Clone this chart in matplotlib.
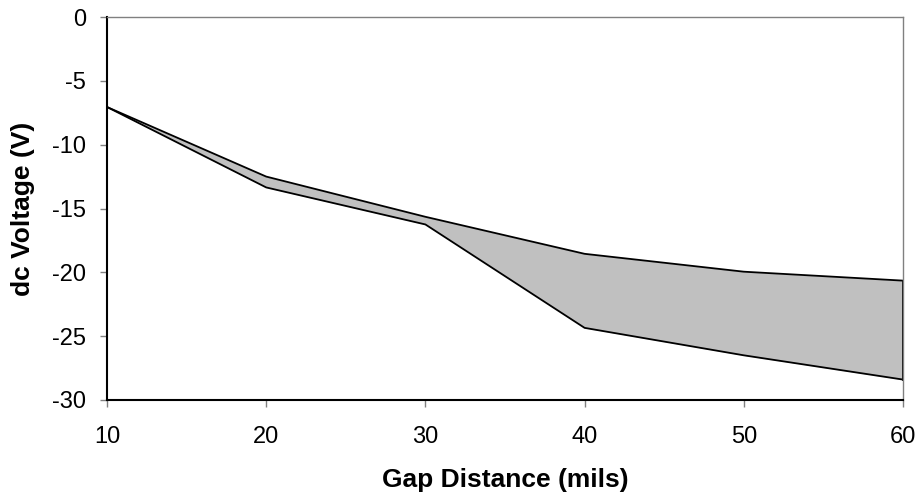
import matplotlib
matplotlib.use("Agg")
import matplotlib.pyplot as plt

# gap distance (mils) and the upper / lower bounds of dc voltage (V)
gap = [10, 20, 30, 40, 50, 60]
upper = [-7.05, -12.5, -15.65, -18.55, -19.95, -20.65]
lower = [-7.05, -13.35, -16.25, -24.35, -26.5, -28.4]

x_ticks = [10, 20, 30, 40, 50, 60]
y_ticks = [0, -5, -10, -15, -20, -25, -30]

plt.rcParams['font.family'] = ['Liberation Sans', 'DejaVu Sans']

fig = plt.figure(figsize=(9.19, 4.97), dpi=100)
ax = fig.add_axes([107 / 919, 1 - 400 / 497, (903 - 107) / 919, (400 - 17) / 497])

ax.fill_between(gap, lower, upper, color="#c0c0c0", linewidth=0)
ax.plot(gap, upper, color="black", linewidth=1.3)
ax.plot(gap, lower, color="black", linewidth=1.3)
ax.plot([gap[-1], gap[-1]], [lower[-1], upper[-1]], color="black", linewidth=1.3)

ax.set_xlim(10, 60)
ax.set_ylim(-30, 0)
ax.set_xticks(x_ticks)
ax.set_yticks(y_ticks)
ax.set_yticklabels([str(v) for v in y_ticks])

for side in ["left", "bottom"]:
    ax.spines[side].set_color("black")
    ax.spines[side].set_linewidth(1.5)
for side in ["top", "right"]:
    ax.spines[side].set_color("#808080")
    ax.spines[side].set_linewidth(1.0)

ax.tick_params(axis="both", direction="out", length=5, width=1, color="#808080",
               labelsize=17)
ax.tick_params(axis="x", pad=14)
ax.tick_params(axis="y", pad=10)

ax.set_xlabel("Gap Distance (mils)", fontsize=19, fontweight="bold", labelpad=14)
ax.set_ylabel("dc Voltage (V)", fontsize=19, fontweight="bold", labelpad=12)

fig.savefig("out.png", dpi=100)
